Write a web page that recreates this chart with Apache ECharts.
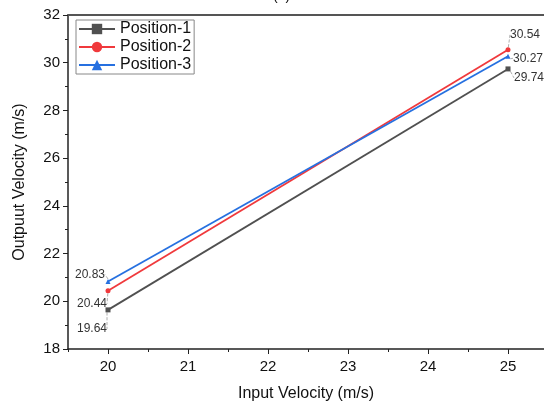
<!DOCTYPE html>
<html><head><meta charset="utf-8">
<script src="https://cdn.jsdelivr.net/npm/echarts@6/dist/echarts.min.js"></script>
<style>html,body{margin:0;padding:0;background:#fff}#c{width:544px;height:407px}</style>
</head><body><div id="c"></div>
<script>
const xValues = [20, 25];
const position1 = [19.64, 29.74];
const position2 = [20.44, 30.54];
const position3 = [20.83, 30.27];
const seriesNames = ['Position-1', 'Position-2', 'Position-3'];
const xMajorTicks = [20, 21, 22, 23, 24, 25];
const xMinorTicks = [19.5, 20.5, 21.5, 22.5, 23.5, 24.5];
const colors = ['#505050', '#f0393c', '#2670e0'];
const labelOffsets = [
  [[-16, 19], [21, 9]],
  [[-16, 13], [17, -15]],
  [[-18, -7], [20, 2]]
];
const chart = echarts.init(document.getElementById('c'));
const font = 'Liberation Sans, Arial, sans-serif';
const allData = [position1, position2, position3];
const symbols = ['rect', 'circle', 'triangle'];
const series = allData.map((vals, si) => ({
  name: seriesNames[si],
  type: 'line',
  data: vals.map((v, i) => [xValues[i], v]),
  symbol: symbols[si],
  symbolSize: 5,
  lineStyle: {width: 1.8, color: colors[si]},
  itemStyle: {color: colors[si]},
  label: {show: true, formatter: p => p.value[1].toFixed(2), fontFamily: font, fontSize: 12, color: '#333',
    position: 'inside'},
  labelLayout: p => ({dx: labelOffsets[si][p.dataIndex][0], dy: labelOffsets[si][p.dataIndex][1]}),
  labelLine: {show: true, lineStyle: {color: '#999', width: 0.8, type: 'dashed'}},
  z: 3 + si
}));
chart.setOption({
  animation: false,
  backgroundColor: '#fff',
  title: {text: '(a)', left: 268, top: -16, textStyle: {fontFamily: font, fontSize: 14, fontWeight: 'normal', color: '#111'}},
  grid: {left: 68, top: 15, bottom: 57, right: 0, containLabel: false},
  legend: {
    data: seriesNames, left: 76, top: 20, orient: 'vertical', itemGap: 2,
    itemWidth: 36, itemHeight: 13, padding: [1, 3, 1, 2],
    borderColor: '#888', borderWidth: 1,
    textStyle: {fontFamily: font, fontSize: 16, color: '#111'}
  },
  xAxis: [{
    type: 'value', min: 19.5, max: 25.45,
    name: 'Input Velocity (m/s)', nameLocation: 'middle', nameGap: 37,
    nameTextStyle: {fontFamily: font, fontSize: 16, color: '#111'},
    axisLine: {lineStyle: {color: '#222', width: 1.5}},
    axisTick: {show: true, inside: false, length: 5, customValues: xMajorTicks, lineStyle: {color: '#222'}},
    axisLabel: {fontFamily: font, fontSize: 15, color: '#111', margin: 10, customValues: xMajorTicks},
    splitLine: {show: false}
  }, {
    type: 'value', min: 19.5, max: 25.45, position: 'bottom',
    axisLine: {show: false},
    axisTick: {show: true, length: 3, customValues: xMinorTicks, lineStyle: {color: '#222'}},
    axisLabel: {show: false}, splitLine: {show: false}
  }, {
    type: 'value', min: 19.5, max: 25.45, position: 'top',
    axisLine: {show: true, lineStyle: {color: '#555', width: 2}},
    axisTick: {show: false}, axisLabel: {show: false}, splitLine: {show: false}
  }],
  yAxis: {
    type: 'value', min: 18, max: 32, interval: 2,
    name: 'Outpuut Velocity (m/s)', nameLocation: 'middle', nameGap: 40,
    nameTextStyle: {fontFamily: font, fontSize: 16, color: '#111'},
    axisLine: {show: true, lineStyle: {color: '#222', width: 1.5}},
    axisTick: {show: true, length: 5, lineStyle: {color: '#222'}},
    minorTick: {show: true, splitNumber: 2, length: 3, lineStyle: {color: '#222'}},
    axisLabel: {fontFamily: font, fontSize: 15, color: '#111', margin: 8},
    splitLine: {show: false}
  },
  series: series
});
</script></body></html>
